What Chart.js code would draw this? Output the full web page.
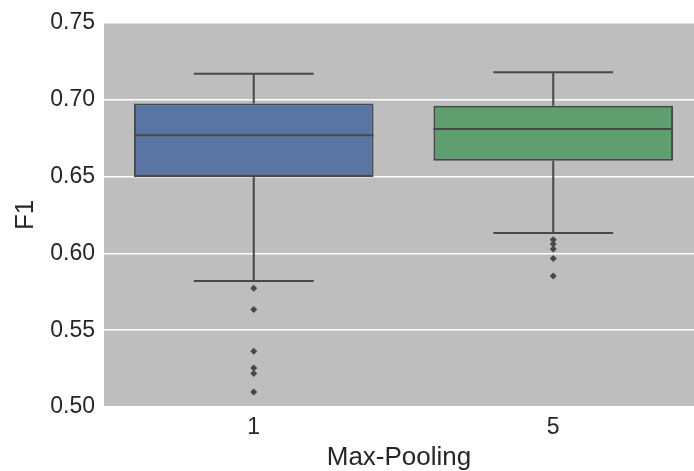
<!DOCTYPE html>
<html lang="en">
<head>
    <meta charset="UTF-8">
    <title>F1 by Max-Pooling</title>
    <script src="https://cdn.jsdelivr.net/npm/chart.js"></script>
    <style>
        body { margin: 0; background: #fff; }
    </style>
</head>
<body>
    <canvas id="boxChart" width="694" height="471"></canvas>

    <script>
        // box plot summary
        const categories = ['1', '5'];
        const q1 = [0.6496, 0.6602];
        const median = [0.6768, 0.6809];
        const q3 = [0.6975, 0.6960];
        const whiskerLow = [0.5820, 0.6133];
        const whiskerHigh = [0.7168, 0.7178];
        const outliers1 = [0.5773, 0.5635, 0.5363, 0.5254, 0.5218, 0.5097];
        const outliers5 = [0.6088, 0.6060, 0.6028, 0.5967, 0.5853];
        const boxColors = ['#5875a4', '#5f9e6e'];

        const lineColor = '#474747';
        const textColor = '#262626';
        const fontFamily = "'Liberation Sans', Arial, sans-serif";

        const outlierPoints = [];
        outliers1.forEach(v => outlierPoints.push({ x: 0, y: v }));
        outliers5.forEach(v => outlierPoints.push({ x: 1, y: v }));

        // grey panel behind the plot
        const panelBg = {
            id: 'panelBg',
            beforeDraw(chart) {
                const a = chart.chartArea;
                const c = chart.ctx;
                c.save();
                c.fillStyle = '#bebebe';
                c.fillRect(a.left, a.top, a.right - a.left, a.bottom - a.top);
                c.restore();
            }
        };

        // whiskers and medians, placed with the chart's scales
        const boxLines = {
            id: 'boxLines',
            afterDatasetsDraw(chart) {
                const xs = chart.scales.x, ys = chart.scales.y;
                const c = chart.ctx;
                c.save();
                c.strokeStyle = lineColor;
                c.lineWidth = 2;
                categories.forEach((cat, i) => {
                    const xc = xs.getPixelForValue(i);
                    const xl = xs.getPixelForValue(i - 0.4);
                    const xr = xs.getPixelForValue(i + 0.4);
                    const cl = xs.getPixelForValue(i - 0.2);
                    const cr = xs.getPixelForValue(i + 0.2);
                    c.beginPath();
                    // median
                    c.moveTo(xl, ys.getPixelForValue(median[i]));
                    c.lineTo(xr, ys.getPixelForValue(median[i]));
                    // upper whisker
                    c.moveTo(xc, ys.getPixelForValue(q3[i]));
                    c.lineTo(xc, ys.getPixelForValue(whiskerHigh[i]));
                    c.moveTo(cl, ys.getPixelForValue(whiskerHigh[i]));
                    c.lineTo(cr, ys.getPixelForValue(whiskerHigh[i]));
                    // lower whisker
                    c.moveTo(xc, ys.getPixelForValue(q1[i]));
                    c.lineTo(xc, ys.getPixelForValue(whiskerLow[i]));
                    c.moveTo(cl, ys.getPixelForValue(whiskerLow[i]));
                    c.lineTo(cr, ys.getPixelForValue(whiskerLow[i]));
                    c.stroke();
                });
                c.restore();
            }
        };

        const ctx = document.getElementById('boxChart').getContext('2d');
        const chart = new Chart(ctx, {
            type: 'bar',
            data: {
                datasets: [{
                    label: 'IQR',
                    data: categories.map((cat, i) => ({ x: i, y: [q1[i], q3[i]] })),
                    backgroundColor: boxColors,
                    borderColor: lineColor,
                    borderWidth: 2,
                    borderSkipped: false,
                    barPercentage: 1,
                    categoryPercentage: 0.8,
                    order: 2
                }, {
                    type: 'scatter',
                    label: 'outliers',
                    data: outlierPoints,
                    pointStyle: 'rectRot',
                    pointRadius: 3.5,
                    backgroundColor: lineColor,
                    borderColor: lineColor,
                    borderWidth: 0,
                    order: 1
                }]
            },
            options: {
                responsive: false,
                animation: false,
                layout: { autoPadding: false, padding: { top: 21, right: 0, bottom: 0, left: 0 } },
                plugins: {
                    legend: { display: false },
                    tooltip: { enabled: false }
                },
                scales: {
                    x: {
                        type: 'linear',
                        min: -0.5,
                        max: 1.47,
                        offset: false,
                        afterBuildTicks: s => { s.ticks = categories.map((c, i) => ({ value: i })); },
                        afterFit: s => {
                            s.height = 64;
                            s.paddingLeft = 0;
                            s.paddingRight = 0;
                        },
                        grid: { display: false, drawTicks: false, offset: false },
                        border: { display: false },
                        ticks: {
                            padding: 7,
                            color: textColor,
                            font: { family: fontFamily, size: 23 },
                            callback: v => categories[v]
                        },
                        title: {
                            display: true,
                            text: 'Max-Pooling',
                            color: textColor,
                            font: { family: fontFamily, size: 26, lineHeight: 1 },
                            padding: { top: 0, bottom: 0 }
                        }
                    },
                    y: {
                        min: 0.5,
                        max: 0.75,
                        afterFit: s => { s.width = 104; },
                        grid: { color: '#ffffff', lineWidth: 1.5, drawTicks: false },
                        border: { display: false },
                        ticks: {
                            stepSize: 0.05,
                            padding: 9,
                            color: textColor,
                            font: { family: fontFamily, size: 23 },
                            callback: v => v.toFixed(2)
                        },
                        title: {
                            display: true,
                            text: 'F1',
                            color: textColor,
                            font: { family: fontFamily, size: 26, lineHeight: 1 },
                            padding: { top: 13, bottom: 0 }
                        }
                    }
                }
            },
            plugins: [panelBg, boxLines]
        });
    </script>
</body>
</html>
